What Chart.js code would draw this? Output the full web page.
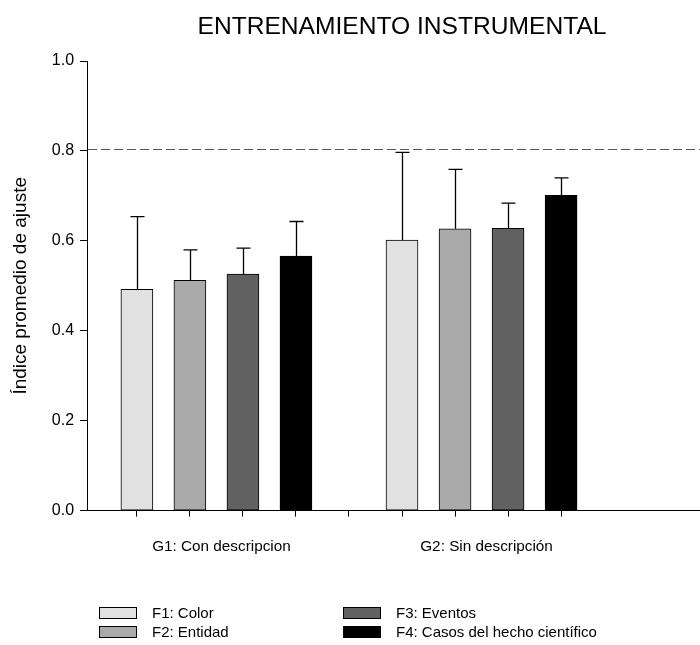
<!DOCTYPE html>
<html lang="es">
<head>
<meta charset="utf-8">
<title>Entrenamiento instrumental</title>
<script src="https://cdn.jsdelivr.net/npm/chart.js@4/dist/chart.umd.min.js"></script>
<style>
  html, body { margin: 0; padding: 0; background: #fff; }
  #wrap { position: relative; width: 700px; height: 645px; overflow: hidden;
          font-family: "Liberation Sans", Arial, sans-serif; color: #000; }
  #chart { position: absolute; left: 0; top: 0; }
  #titulo { position: absolute; left: 104px; width: 596px; top: 14px; text-align: center;
            font-size: 24.6px; line-height: 24px; white-space: nowrap; }
  #leyenda { position: absolute; left: 99px; top: 603px; display: grid;
             grid-template-columns: 244px 244px; grid-template-rows: 19px 19px; grid-auto-flow: column; }
  .item { display: flex; align-items: center; font-size: 15px; white-space: nowrap; }
  .caja { width: 36px; height: 10px; border: 1px solid #000; margin-right: 15px; flex: none; }
</style>
</head>
<body>
<div id="wrap">
  <canvas id="chart" width="700" height="645"></canvas>
  <div id="titulo">ENTRENAMIENTO INSTRUMENTAL</div>
  <div id="leyenda"></div>
</div>
<script>
// Grupos experimentales y factores evaluados
const grupos = ['G1: Con descripcion', 'G2: Sin descripción'];
const factores = ['F1: Color', 'F2: Entidad', 'F3: Eventos', 'F4: Casos del hecho científico'];

// Índice promedio de ajuste por factor (G1, G2)
const f1Media = [0.492, 0.602];
const f2Media = [0.512, 0.627];
const f3Media = [0.526, 0.628];
const f4Media = [0.566, 0.701];

// Error (barra superior) por factor (G1, G2)
const f1Error = [0.162, 0.195];
const f2Error = [0.068, 0.132];
const f3Error = [0.058, 0.056];
const f4Error = [0.077, 0.039];

// Marcas del eje Y y criterio de referencia
const yMarcas = [0.0, 0.2, 0.4, 0.6, 0.8, 1.0];
const criterio = 0.805;

const colores = ['#e1e1e1', '#aaaaaa', '#616161', '#000000'];
const medias = [f1Media, f2Media, f3Media, f4Media];
const errores = [f1Error, f2Error, f3Error, f4Error];

// Cada grupo ocupa tantas posiciones como factores, más un hueco de separación
const paso = factores.length + 1;
const posicion = (g, f) => g * paso + f + 1;
const centroGrupo = (g) => (posicion(g, 0) + posicion(g, factores.length - 1)) / 2;
const marcasX = [];
for (let v = 1; v <= grupos.length * paso - 1; v++) marcasX.push(v);

const X_MIN = 0.06, X_MAX = 11.62;
const fuente = '"Liberation Sans", Arial, sans-serif';

// Leyenda en dos columnas
const leyenda = document.getElementById('leyenda');
factores.forEach((nombre, i) => {
  const item = document.createElement('div');
  item.className = 'item';
  const caja = document.createElement('span');
  caja.className = 'caja';
  caja.style.background = colores[i];
  const texto = document.createElement('span');
  texto.textContent = nombre;
  item.appendChild(caja);
  item.appendChild(texto);
  leyenda.appendChild(item);
});

// Línea discontinua del criterio y barras de error
const extras = {
  id: 'extras',
  beforeDatasetsDraw(chart) {
    const { ctx, chartArea, scales: { y } } = chart;
    const py = Math.round(y.getPixelForValue(criterio)) + 0.5;
    ctx.save();
    ctx.strokeStyle = '#555555';
    ctx.lineWidth = 1;
    ctx.setLineDash([9, 4]);
    ctx.beginPath();
    ctx.moveTo(chartArea.left + 1, py);
    ctx.lineTo(chartArea.right, py);
    ctx.stroke();
    ctx.restore();
  },
  afterDatasetsDraw(chart) {
    const { ctx, scales: { y } } = chart;
    ctx.save();
    ctx.strokeStyle = '#000';
    ctx.lineWidth = 1.3;
    chart.data.datasets.forEach((ds, di) => {
      const meta = chart.getDatasetMeta(di);
      meta.data.forEach((bar, i) => {
        const v = ds.data[i].y;
        const top = y.getPixelForValue(v + ds.errores[i]);
        const x = Math.round(bar.x) + 0.5;
        ctx.beginPath();
        ctx.moveTo(x, bar.y);
        ctx.lineTo(x, top);
        ctx.moveTo(x - 7, top);
        ctx.lineTo(x + 7, top);
        ctx.stroke();
      });
    });
    ctx.restore();
  }
};

new Chart(document.getElementById('chart'), {
  type: 'bar',
  data: {
    datasets: factores.map((nombre, f) => ({
      label: nombre,
      data: grupos.map((g, gi) => ({ x: posicion(gi, f), y: medias[f][gi] })),
      errores: errores[f],
      backgroundColor: colores[f],
      borderColor: '#000',
      borderWidth: 1,
      borderSkipped: false,
      barThickness: 32,
      grouped: false
    }))
  },
  options: {
    responsive: false,
    animation: false,
    layout: { padding: { top: 61, left: 9, right: 0, bottom: 68 } },
    plugins: { legend: { display: false }, tooltip: { enabled: false }, title: { display: false } },
    scales: {
      x: {
        type: 'linear', min: X_MIN, max: X_MAX, offset: false,
        afterBuildTicks: (s) => { s.ticks = marcasX.map(v => ({ value: v })); },
        ticks: { display: false },
        grid: { offset: false, drawOnChartArea: false, drawTicks: true, tickLength: 6, tickColor: '#000', tickWidth: 1 },
        border: { color: '#000', width: 1 }
      },
      xg: {
        type: 'linear', position: 'bottom', min: X_MIN, max: X_MAX, offset: false,
        afterBuildTicks: (s) => { s.ticks = grupos.map((g, gi) => ({ value: centroGrupo(gi) })); },
        ticks: {
          callback: (v, i) => grupos[i],
          autoSkip: false, maxRotation: 0, padding: 21, labelOffset: 5,
          color: '#000', font: { family: fuente, size: 15.3 }
        },
        grid: { display: false, drawTicks: false, offset: false },
        border: { display: false }
      },
      y: {
        min: 0, max: 1,
        afterBuildTicks: (s) => { s.ticks = yMarcas.map(v => ({ value: v })); },
        ticks: {
          callback: (v) => Number(v).toFixed(1),
          padding: 6, color: '#000', font: { family: fuente, size: 16 }
        },
        grid: { drawOnChartArea: false, tickLength: 7, tickColor: '#000' },
        border: { color: '#000', width: 1 },
        title: {
          display: true, text: 'Índice promedio de ajuste', color: '#000',
          font: { family: fuente, size: 19 }, padding: { top: 0, bottom: 14 }
        }
      }
    }
  },
  plugins: [extras]
});
</script>
</body>
</html>
